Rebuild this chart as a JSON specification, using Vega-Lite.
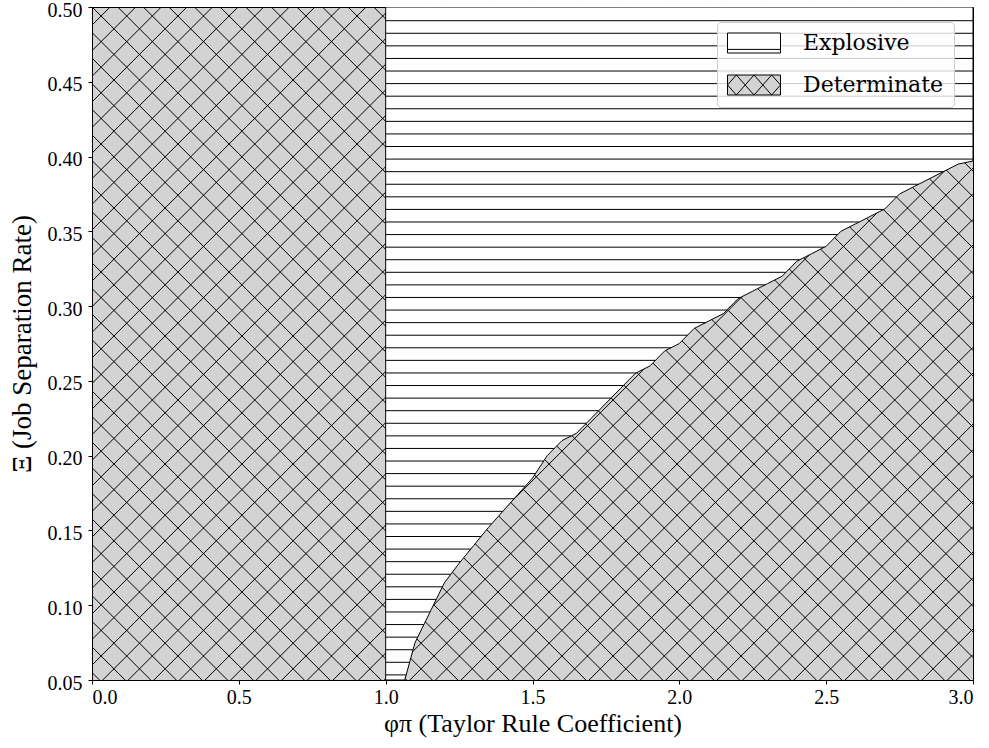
{
  "$schema": "https://vega.github.io/schema/vega-lite/v6.json",
  "width": 881,
  "height": 673,
  "autosize": {"type": "none"},
  "padding": {"left": 92, "top": 7, "right": 16, "bottom": 68},
  "background": "white",
  "config": {
    "view": {"stroke": "black", "strokeWidth": 1, "fill": "#d3d3d3"},
    "axis": {
      "labelFont": "Liberation Serif", "labelFontSize": 20, "labelColor": "black", "labelFontWeight": "normal",
      "titleFont": "Liberation Serif", "titleFontSize": 26, "titleFontWeight": "normal", "titleColor": "black",
      "tickColor": "black", "domainColor": "black", "grid": false, "tickSize": 4, "labelPadding": 3
    },
    "axisX": {"titlePadding": 3},
    "axisY": {"titlePadding": 11, "titleFontSize": 27, "labelOffset": 3, "labelPadding": 6}
  },
  "datasets": {
    "boundary": [
      {"x": 1.0, "yb": 0.05, "yt": 0.5}, {"x": 1.065, "yb": 0.05, "yt": 0.5}, {"x": 1.1, "yb": 0.075, "yt": 0.5}, {"x": 1.15, "yb": 0.095, "yt": 0.5},
      {"x": 1.2, "yb": 0.115, "yt": 0.5}, {"x": 1.25, "yb": 0.128, "yt": 0.5}, {"x": 1.3, "yb": 0.14, "yt": 0.5}, {"x": 1.35, "yb": 0.152, "yt": 0.5},
      {"x": 1.4, "yb": 0.163, "yt": 0.5}, {"x": 1.45, "yb": 0.174, "yt": 0.5}, {"x": 1.5, "yb": 0.185, "yt": 0.5}, {"x": 1.55, "yb": 0.2, "yt": 0.5},
      {"x": 1.6, "yb": 0.21, "yt": 0.5}, {"x": 1.65, "yb": 0.215, "yt": 0.5}, {"x": 1.7, "yb": 0.225, "yt": 0.5}, {"x": 1.75, "yb": 0.235, "yt": 0.5},
      {"x": 1.8, "yb": 0.245, "yt": 0.5}, {"x": 1.85, "yb": 0.255, "yt": 0.5}, {"x": 1.9, "yb": 0.26, "yt": 0.5}, {"x": 1.95, "yb": 0.27, "yt": 0.5},
      {"x": 2.0, "yb": 0.275, "yt": 0.5}, {"x": 2.05, "yb": 0.285, "yt": 0.5}, {"x": 2.1, "yb": 0.29, "yt": 0.5}, {"x": 2.15, "yb": 0.295, "yt": 0.5},
      {"x": 2.2, "yb": 0.305, "yt": 0.5}, {"x": 2.25, "yb": 0.31, "yt": 0.5}, {"x": 2.3, "yb": 0.315, "yt": 0.5}, {"x": 2.35, "yb": 0.32, "yt": 0.5},
      {"x": 2.4, "yb": 0.33, "yt": 0.5}, {"x": 2.45, "yb": 0.335, "yt": 0.5}, {"x": 2.5, "yb": 0.34, "yt": 0.5}, {"x": 2.55, "yb": 0.35, "yt": 0.5},
      {"x": 2.6, "yb": 0.355, "yt": 0.5}, {"x": 2.65, "yb": 0.36, "yt": 0.5}, {"x": 2.7, "yb": 0.365, "yt": 0.5}, {"x": 2.75, "yb": 0.375, "yt": 0.5},
      {"x": 2.8, "yb": 0.38, "yt": 0.5}, {"x": 2.85, "yb": 0.385, "yt": 0.5}, {"x": 2.9, "yb": 0.39, "yt": 0.5}, {"x": 2.95, "yb": 0.395, "yt": 0.5},
      {"x": 3.0, "yb": 0.397, "yt": 0.5}
    ],
    "hlines": [
      {"y": 0.49084, "xs": 1, "xe": 3}, {"y": 0.48243, "xs": 1, "xe": 3}, {"y": 0.47402, "xs": 1, "xe": 3}, {"y": 0.4656, "xs": 1, "xe": 3},
      {"y": 0.45719, "xs": 1, "xe": 3}, {"y": 0.44878, "xs": 1, "xe": 3}, {"y": 0.44037, "xs": 1, "xe": 3}, {"y": 0.43196, "xs": 1, "xe": 3},
      {"y": 0.42354, "xs": 1, "xe": 3}, {"y": 0.41513, "xs": 1, "xe": 3}, {"y": 0.40672, "xs": 1, "xe": 3}, {"y": 0.39831, "xs": 1, "xe": 3},
      {"y": 0.3899, "xs": 1, "xe": 2.899}, {"y": 0.38148, "xs": 1, "xe": 2.815}, {"y": 0.37307, "xs": 1, "xe": 2.74}, {"y": 0.36466, "xs": 1, "xe": 2.697},
      {"y": 0.35625, "xs": 1, "xe": 2.612}, {"y": 0.34784, "xs": 1, "xe": 2.539}, {"y": 0.33942, "xs": 1, "xe": 2.494}, {"y": 0.33101, "xs": 1, "xe": 2.41},
      {"y": 0.3226, "xs": 1, "xe": 2.363}, {"y": 0.31419, "xs": 1, "xe": 2.292}, {"y": 0.30578, "xs": 1, "xe": 2.208}, {"y": 0.29736, "xs": 1, "xe": 2.162},
      {"y": 0.28895, "xs": 1, "xe": 2.09}, {"y": 0.28054, "xs": 1, "xe": 2.028}, {"y": 0.27213, "xs": 1, "xe": 1.971}, {"y": 0.26372, "xs": 1, "xe": 1.919},
      {"y": 0.2553, "xs": 1, "xe": 1.853}, {"y": 0.24689, "xs": 1, "xe": 1.809}, {"y": 0.23848, "xs": 1, "xe": 1.767}, {"y": 0.23007, "xs": 1, "xe": 1.725},
      {"y": 0.22166, "xs": 1, "xe": 1.683}, {"y": 0.21324, "xs": 1, "xe": 1.632}, {"y": 0.20483, "xs": 1, "xe": 1.574}, {"y": 0.19642, "xs": 1, "xe": 1.538},
      {"y": 0.18801, "xs": 1, "xe": 1.51}, {"y": 0.1796, "xs": 1, "xe": 1.475}, {"y": 0.17118, "xs": 1, "xe": 1.437}, {"y": 0.16277, "xs": 1, "xe": 1.399},
      {"y": 0.15436, "xs": 1, "xe": 1.361}, {"y": 0.14595, "xs": 1, "xe": 1.325}, {"y": 0.13754, "xs": 1, "xe": 1.29}, {"y": 0.12912, "xs": 1, "xe": 1.255},
      {"y": 0.12071, "xs": 1, "xe": 1.222}, {"y": 0.1123, "xs": 1, "xe": 1.193}, {"y": 0.10389, "xs": 1, "xe": 1.172}, {"y": 0.09548, "xs": 1, "xe": 1.151},
      {"y": 0.08706, "xs": 1, "xe": 1.13}, {"y": 0.07865, "xs": 1, "xe": 1.109}, {"y": 0.07024, "xs": 1, "xe": 1.093}, {"y": 0.06183, "xs": 1, "xe": 1.082},
      {"y": 0.05342, "xs": 1, "xe": 1.07}
    ],
    "hatch": [
      {"x0": 0, "x1": 3, "y": 0.05502, "y2": -0.53406}, {"x0": 0, "x1": 3, "y": 0.07213, "y2": -0.51695}, {"x0": 0, "x1": 3, "y": 0.08925, "y2": -0.49983},
      {"x0": 0, "x1": 3, "y": 0.10637, "y2": -0.48271}, {"x0": 0, "x1": 3, "y": 0.12348, "y2": -0.4656}, {"x0": 0, "x1": 3, "y": 0.1406, "y2": -0.44848},
      {"x0": 0, "x1": 3, "y": 0.15772, "y2": -0.43136}, {"x0": 0, "x1": 3, "y": 0.17484, "y2": -0.41424}, {"x0": 0, "x1": 3, "y": 0.19195, "y2": -0.39713},
      {"x0": 0, "x1": 3, "y": 0.20907, "y2": -0.38001}, {"x0": 0, "x1": 3, "y": 0.22619, "y2": -0.36289}, {"x0": 0, "x1": 3, "y": 0.2433, "y2": -0.34578},
      {"x0": 0, "x1": 3, "y": 0.26042, "y2": -0.32866}, {"x0": 0, "x1": 3, "y": 0.27754, "y2": -0.31154}, {"x0": 0, "x1": 3, "y": 0.29465, "y2": -0.29443},
      {"x0": 0, "x1": 3, "y": 0.31177, "y2": -0.27731}, {"x0": 0, "x1": 3, "y": 0.32889, "y2": -0.26019}, {"x0": 0, "x1": 3, "y": 0.34601, "y2": -0.24307},
      {"x0": 0, "x1": 3, "y": 0.36312, "y2": -0.22596}, {"x0": 0, "x1": 3, "y": 0.38024, "y2": -0.20884}, {"x0": 0, "x1": 3, "y": 0.39736, "y2": -0.19172},
      {"x0": 0, "x1": 3, "y": 0.41447, "y2": -0.17461}, {"x0": 0, "x1": 3, "y": 0.43159, "y2": -0.15749}, {"x0": 0, "x1": 3, "y": 0.44871, "y2": -0.14037},
      {"x0": 0, "x1": 3, "y": 0.46582, "y2": -0.12326}, {"x0": 0, "x1": 3, "y": 0.48294, "y2": -0.10614}, {"x0": 0, "x1": 3, "y": 0.50006, "y2": -0.08902},
      {"x0": 0, "x1": 3, "y": 0.51718, "y2": -0.0719}, {"x0": 0, "x1": 3, "y": 0.53429, "y2": -0.05479}, {"x0": 0, "x1": 3, "y": 0.55141, "y2": -0.03767},
      {"x0": 0, "x1": 3, "y": 0.56853, "y2": -0.02055}, {"x0": 0, "x1": 3, "y": 0.58564, "y2": -0.00344}, {"x0": 0, "x1": 3, "y": 0.60276, "y2": 0.01368},
      {"x0": 0, "x1": 3, "y": 0.61988, "y2": 0.0308}, {"x0": 0, "x1": 3, "y": 0.63699, "y2": 0.04791}, {"x0": 0, "x1": 3, "y": 0.65411, "y2": 0.06503},
      {"x0": 0, "x1": 3, "y": 0.67123, "y2": 0.08215}, {"x0": 0, "x1": 3, "y": 0.68835, "y2": 0.09927}, {"x0": 0, "x1": 3, "y": 0.70546, "y2": 0.11638},
      {"x0": 0, "x1": 3, "y": 0.72258, "y2": 0.1335}, {"x0": 0, "x1": 3, "y": 0.7397, "y2": 0.15062}, {"x0": 0, "x1": 3, "y": 0.75681, "y2": 0.16773},
      {"x0": 0, "x1": 3, "y": 0.77393, "y2": 0.18485}, {"x0": 0, "x1": 3, "y": 0.79105, "y2": 0.20197}, {"x0": 0, "x1": 3, "y": 0.80816, "y2": 0.21908},
      {"x0": 0, "x1": 3, "y": 0.82528, "y2": 0.2362}, {"x0": 0, "x1": 3, "y": 0.8424, "y2": 0.25332}, {"x0": 0, "x1": 3, "y": 0.85952, "y2": 0.27044},
      {"x0": 0, "x1": 3, "y": 0.87663, "y2": 0.28755}, {"x0": 0, "x1": 3, "y": 0.89375, "y2": 0.30467}, {"x0": 0, "x1": 3, "y": 0.91087, "y2": 0.32179},
      {"x0": 0, "x1": 3, "y": 0.92798, "y2": 0.3389}, {"x0": 0, "x1": 3, "y": 0.9451, "y2": 0.35602}, {"x0": 0, "x1": 3, "y": 0.96222, "y2": 0.37314},
      {"x0": 0, "x1": 3, "y": 0.97933, "y2": 0.39025}, {"x0": 0, "x1": 3, "y": 0.99645, "y2": 0.40737}, {"x0": 0, "x1": 3, "y": 1.01357, "y2": 0.42449},
      {"x0": 0, "x1": 3, "y": 1.03069, "y2": 0.44161}, {"x0": 0, "x1": 3, "y": 1.0478, "y2": 0.45872}, {"x0": 0, "x1": 3, "y": 1.06492, "y2": 0.47584},
      {"x0": 0, "x1": 3, "y": 1.08204, "y2": 0.49296},
      {"x0": 0, "x1": 3, "y": 0.48788, "y2": 1.07696}, {"x0": 0, "x1": 3, "y": 0.47076, "y2": 1.05984}, {"x0": 0, "x1": 3, "y": 0.45365, "y2": 1.04273},
      {"x0": 0, "x1": 3, "y": 0.43653, "y2": 1.02561}, {"x0": 0, "x1": 3, "y": 0.41941, "y2": 1.00849}, {"x0": 0, "x1": 3, "y": 0.4023, "y2": 0.99138},
      {"x0": 0, "x1": 3, "y": 0.38518, "y2": 0.97426}, {"x0": 0, "x1": 3, "y": 0.36806, "y2": 0.95714}, {"x0": 0, "x1": 3, "y": 0.35095, "y2": 0.94003},
      {"x0": 0, "x1": 3, "y": 0.33383, "y2": 0.92291}, {"x0": 0, "x1": 3, "y": 0.31671, "y2": 0.90579}, {"x0": 0, "x1": 3, "y": 0.2996, "y2": 0.88868},
      {"x0": 0, "x1": 3, "y": 0.28248, "y2": 0.87156}, {"x0": 0, "x1": 3, "y": 0.26536, "y2": 0.85444}, {"x0": 0, "x1": 3, "y": 0.24824, "y2": 0.83732},
      {"x0": 0, "x1": 3, "y": 0.23113, "y2": 0.82021}, {"x0": 0, "x1": 3, "y": 0.21401, "y2": 0.80309}, {"x0": 0, "x1": 3, "y": 0.19689, "y2": 0.78597},
      {"x0": 0, "x1": 3, "y": 0.17978, "y2": 0.76886}, {"x0": 0, "x1": 3, "y": 0.16266, "y2": 0.75174}, {"x0": 0, "x1": 3, "y": 0.14554, "y2": 0.73462},
      {"x0": 0, "x1": 3, "y": 0.12843, "y2": 0.71751}, {"x0": 0, "x1": 3, "y": 0.11131, "y2": 0.70039}, {"x0": 0, "x1": 3, "y": 0.09419, "y2": 0.68327},
      {"x0": 0, "x1": 3, "y": 0.07707, "y2": 0.66615}, {"x0": 0, "x1": 3, "y": 0.05996, "y2": 0.64904}, {"x0": 0, "x1": 3, "y": 0.04284, "y2": 0.63192},
      {"x0": 0, "x1": 3, "y": 0.02572, "y2": 0.6148}, {"x0": 0, "x1": 3, "y": 0.00861, "y2": 0.59769}, {"x0": 0, "x1": 3, "y": -0.00851, "y2": 0.58057},
      {"x0": 0, "x1": 3, "y": -0.02563, "y2": 0.56345}, {"x0": 0, "x1": 3, "y": -0.04275, "y2": 0.54633}, {"x0": 0, "x1": 3, "y": -0.05986, "y2": 0.52922},
      {"x0": 0, "x1": 3, "y": -0.07698, "y2": 0.5121}, {"x0": 0, "x1": 3, "y": -0.0941, "y2": 0.49498}, {"x0": 0, "x1": 3, "y": -0.11121, "y2": 0.47787},
      {"x0": 0, "x1": 3, "y": -0.12833, "y2": 0.46075}, {"x0": 0, "x1": 3, "y": -0.14545, "y2": 0.44363}, {"x0": 0, "x1": 3, "y": -0.16256, "y2": 0.42652},
      {"x0": 0, "x1": 3, "y": -0.17968, "y2": 0.4094}, {"x0": 0, "x1": 3, "y": -0.1968, "y2": 0.39228}, {"x0": 0, "x1": 3, "y": -0.21392, "y2": 0.37516},
      {"x0": 0, "x1": 3, "y": -0.23103, "y2": 0.35805}, {"x0": 0, "x1": 3, "y": -0.24815, "y2": 0.34093}, {"x0": 0, "x1": 3, "y": -0.26527, "y2": 0.32381},
      {"x0": 0, "x1": 3, "y": -0.28238, "y2": 0.3067}, {"x0": 0, "x1": 3, "y": -0.2995, "y2": 0.28958}, {"x0": 0, "x1": 3, "y": -0.31662, "y2": 0.27246},
      {"x0": 0, "x1": 3, "y": -0.33373, "y2": 0.25535}, {"x0": 0, "x1": 3, "y": -0.35085, "y2": 0.23823}, {"x0": 0, "x1": 3, "y": -0.36797, "y2": 0.22111},
      {"x0": 0, "x1": 3, "y": -0.38509, "y2": 0.20399}, {"x0": 0, "x1": 3, "y": -0.4022, "y2": 0.18688}, {"x0": 0, "x1": 3, "y": -0.41932, "y2": 0.16976},
      {"x0": 0, "x1": 3, "y": -0.43644, "y2": 0.15264}, {"x0": 0, "x1": 3, "y": -0.45355, "y2": 0.13553}, {"x0": 0, "x1": 3, "y": -0.47067, "y2": 0.11841},
      {"x0": 0, "x1": 3, "y": -0.48779, "y2": 0.10129}, {"x0": 0, "x1": 3, "y": -0.5049, "y2": 0.08418}, {"x0": 0, "x1": 3, "y": -0.52202, "y2": 0.06706}
    ],
    "regions": [{"region": "Explosive", "px": 2.0, "py": 0.45}, {"region": "Determinate", "px": 2.0, "py": 0.45}]
  },
  "layer": [
    {
      "data": {"name": "hatch"},
      "mark": {"type": "rule", "clip": true, "color": "black", "strokeWidth": 1},
      "encoding": {
        "x": {"field": "x0", "type": "quantitative", "scale": {"domain": [0, 3], "nice": false, "zero": false},
              "axis": {"values": [0, 0.5, 1, 1.5, 2, 2.5, 3], "format": ".1f"}, "title": "φπ (Taylor Rule Coefficient)"},
        "x2": {"field": "x1"},
        "y": {"field": "y", "type": "quantitative", "scale": {"domain": [0.05, 0.5], "nice": false, "zero": false},
              "axis": {"values": [0.05, 0.1, 0.15, 0.2, 0.25, 0.3, 0.35, 0.4, 0.45, 0.5], "format": ".2f"}, "title": "Ξ (Job Separation Rate)"},
        "y2": {"field": "y2"}
      }
    },
    {
      "data": {"name": "regions"},
      "mark": {"type": "point", "filled": true, "size": 400, "strokeWidth": 1},
      "encoding": {
        "x": {"field": "px", "type": "quantitative", "axis": {"values": [0, 0.5, 1, 1.5, 2, 2.5, 3], "format": ".1f"}, "title": "φπ (Taylor Rule Coefficient)"},
        "y": {"field": "py", "type": "quantitative", "axis": {"values": [0.05, 0.1, 0.15, 0.2, 0.25, 0.3, 0.35, 0.4, 0.45, 0.5], "format": ".2f"}, "title": "Ξ (Job Separation Rate)"},
        "fill": {"field": "region", "type": "nominal",
                 "scale": {"domain": ["Explosive", "Determinate"], "range": ["white", "#d3d3d3"]},
                 "legend": {"title": null, "orient": "none", "legendX": 625, "legendY": 15, "fillColor": "rgba(255,255,255,0.8)", "strokeColor": "#cccccc", "cornerRadius": 4, "padding": 10, "symbolOffset": 16, "labelFont": "DejaVu Serif", "labelFontSize": 22, "labelColor": "black", "labelOffset": 38, "rowPadding": 18, "symbolSize": 400, "symbolStrokeWidth": 1, "symbolOpacity": 1}},
        "stroke": {"field": "region", "type": "nominal",
                 "scale": {"domain": ["Explosive", "Determinate"], "range": ["black", "black"]},
                 "legend": {"title": null, "orient": "none", "legendX": 625, "legendY": 15, "fillColor": "rgba(255,255,255,0.8)", "strokeColor": "#cccccc", "cornerRadius": 4, "padding": 10, "symbolOffset": 16, "labelFont": "DejaVu Serif", "labelFontSize": 22, "labelColor": "black", "labelOffset": 38, "rowPadding": 18, "symbolSize": 400, "symbolStrokeWidth": 1, "symbolOpacity": 1}},
        "shape": {"field": "region", "type": "nominal",
                  "scale": {"domain": ["Explosive", "Determinate"], "range": ["M-2.65,-1H2.65V1H-2.65Z M-2.65,0.64H2.65", "M-2.65,-1H2.65V1H-2.65Z M-2.65,0L-1.767,-1 M-2.65,0L-1.767,1 M-1.767,-1L0,1 M-1.767,1L0,-1 M0,-1L1.767,1 M0,1L1.767,-1 M1.767,-1L2.65,0 M1.767,1L2.65,0"]},
                  "legend": {"title": null, "orient": "none", "legendX": 625, "legendY": 15, "fillColor": "rgba(255,255,255,0.8)", "strokeColor": "#cccccc", "cornerRadius": 4, "padding": 10, "symbolOffset": 16, "labelFont": "DejaVu Serif", "labelFontSize": 22, "labelColor": "black", "labelOffset": 38, "rowPadding": 18, "symbolSize": 400, "symbolStrokeWidth": 1, "symbolOpacity": 1}}
      }
    },
    {
      "data": {"name": "boundary"},
      "mark": {"type": "area", "fill": "white", "stroke": "black", "strokeWidth": 1, "clip": true},
      "encoding": {
        "x": {"field": "x", "type": "quantitative", "axis": {"values": [0, 0.5, 1, 1.5, 2, 2.5, 3], "format": ".1f"}, "title": "φπ (Taylor Rule Coefficient)"},
        "y": {"field": "yb", "type": "quantitative", "axis": {"values": [0.05, 0.1, 0.15, 0.2, 0.25, 0.3, 0.35, 0.4, 0.45, 0.5], "format": ".2f"}, "title": "Ξ (Job Separation Rate)"},
        "y2": {"field": "yt"}
      }
    },
    {
      "data": {"name": "hlines"},
      "mark": {"type": "rule", "color": "black", "strokeWidth": 1, "clip": true},
      "encoding": {
        "x": {"field": "xs", "type": "quantitative", "axis": {"values": [0, 0.5, 1, 1.5, 2, 2.5, 3], "format": ".1f"}, "title": "φπ (Taylor Rule Coefficient)"},
        "x2": {"field": "xe"},
        "y": {"field": "y", "type": "quantitative", "axis": {"values": [0.05, 0.1, 0.15, 0.2, 0.25, 0.3, 0.35, 0.4, 0.45, 0.5], "format": ".2f"}, "title": "Ξ (Job Separation Rate)"}
      }
    }
  ]
}
